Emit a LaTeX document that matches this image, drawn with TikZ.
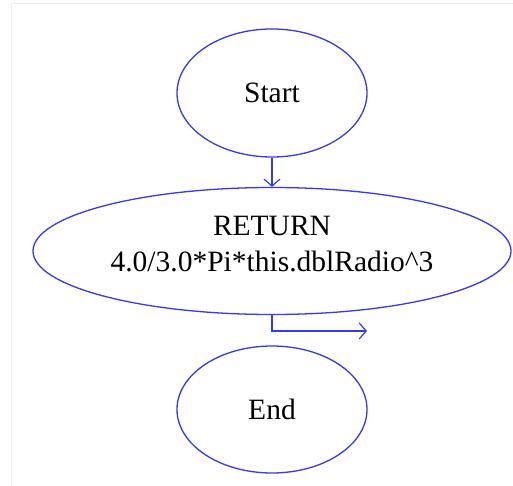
\documentclass[tikz,border=0pt]{standalone}
\usepackage{fontspec}
\setmainfont{Liberation Serif}
\usetikzlibrary{shapes.geometric,arrows.meta}
\definecolor{flowblue}{RGB}{55,55,250}
\definecolor{framegray}{RGB}{238,238,238}
\tikzset{
  flownode/.style={ellipse, draw=flowblue, line width=1.3pt, inner sep=0pt,
    align=center, font=\fontsize{29.5}{36}\selectfont, text=black},
  flowline/.style={draw=flowblue, line width=1.2pt,
    -{Straight Barb[length=7pt,width=16pt,line width=1.2pt]}},
}
\begin{document}
\begin{tikzpicture}[x=1pt,y=-1pt]
  \useasboundingbox (0,0) rectangle (513,486);
  \fill[white] (0,0) rectangle (513,486);
  % faint page frame
  \draw[framegray, line width=0.8pt] (11,486) -- (11,3) -- (513,3);

  \node[flownode, minimum width=190pt, minimum height=128pt] (start) at (272,93) {Start};
  % extra depth lifts the two text lines a little above the centre
  \node[flownode, minimum width=478pt, minimum height=127pt, text depth=14.5pt] (ret) at (272,251)
    {RETURN\\4.0/3.0*Pi*this.dblRadio\^{}3};
  \node[flownode, minimum width=190pt, minimum height=127pt] (end) at (272,409.5) {End};
  \coordinate (exit) at (367,331);

  \draw[flowline] (start.south) -- (ret.north);
  \draw[flowline] (ret.south) |- (exit);
\end{tikzpicture}
\end{document}
